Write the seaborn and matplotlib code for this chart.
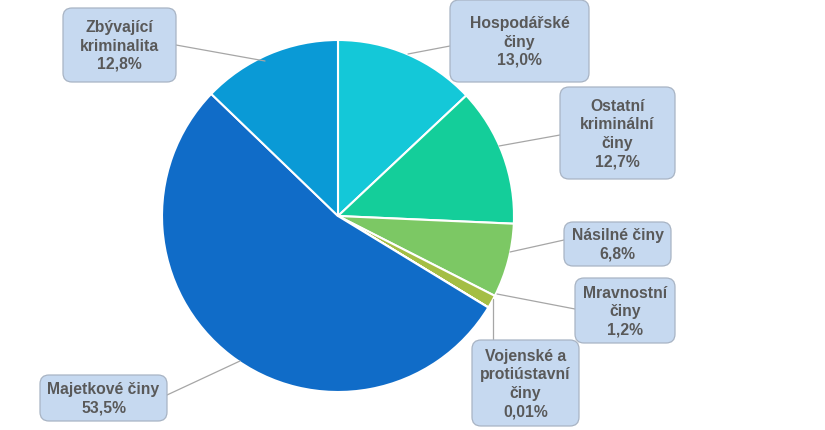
import matplotlib
matplotlib.use("Agg")
import matplotlib.pyplot as plt
from matplotlib.patches import FancyBboxPatch
import seaborn as sns

sns.set_style("white")
plt.rcParams['font.family'] = ['Liberation Sans', 'DejaVu Sans']

# data
categories = ["Hospodářské\nčiny", "Ostatní\nkriminální\nčiny", "Násilné činy",
              "Mravnostní\nčiny", "Vojenské a\nprotiústavní\nčiny", "Majetkové činy",
              "Zbývající\nkriminalita"]
shares = [13.0, 12.7, 6.8, 1.2, 0.01, 53.5, 12.8]
share_labels = ["13,0%", "12,7%", "6,8%", "1,2%", "0,01%", "53,5%", "12,8%"]
colors = ["#14c8d8", "#14ce9a", "#7cc864", "#a4be44", "#a4be44", "#106cc8", "#0a9ad6"]

# label boxes (x0, y0, x1, y1 in pixels, y from top) and leader lines
boxes = [(450, 1, 589, 83), (560, 88, 675, 180), (564, 223, 671, 267),
         (575, 279, 675, 344), (472, 341, 579, 427), (40, 376, 167, 422),
         (63, 9, 176, 83)]
leaders = [[(408, 55), (450, 47)],
           [(499, 147), (560, 136)],
           [(510, 253), (564, 241)],
           [(497, 295), (575, 310)],
           [(493, 300), (493, 341)],
           [(240, 362), (167, 396)],
           [(265, 62), (176, 46)]]

W, H = 825, 431
fig = plt.figure(figsize=(W / 100, H / 100), dpi=100)
ax = fig.add_axes([0, 0, 1, 1])

cx, cy, r = 338, H - 217, 176
ax.pie(shares, colors=colors, startangle=90, counterclock=False,
       center=(cx, cy), radius=r, frame=True,
       wedgeprops=dict(edgecolor="white", linewidth=1.5))
ax.set_xlim(0, W)
ax.set_ylim(0, H)
ax.set_aspect("equal")
ax.axis("off")

for pts in leaders:
    xs = [p[0] for p in pts]
    ys = [H - p[1] for p in pts]
    ax.plot(xs, ys, color="#a6a6a6", lw=0.9, zorder=3)

for cat, lab, (x0, y0, x1, y1) in zip(categories, share_labels, boxes):
    ax.add_patch(FancyBboxPatch((x0, H - y1), x1 - x0, y1 - y0,
                                boxstyle="round,pad=0,rounding_size=9",
                                facecolor="#c6d9f0", edgecolor="#a8b4c4",
                                lw=0.9, zorder=4))
    ax.text((x0 + x1) / 2, H - (y0 + y1) / 2, f"{cat}\n{lab}",
            ha="center", va="center", fontsize=11.3, fontweight="bold",
            color="#595959", linespacing=1.28, zorder=5)

fig.savefig("out.png", dpi=100)
